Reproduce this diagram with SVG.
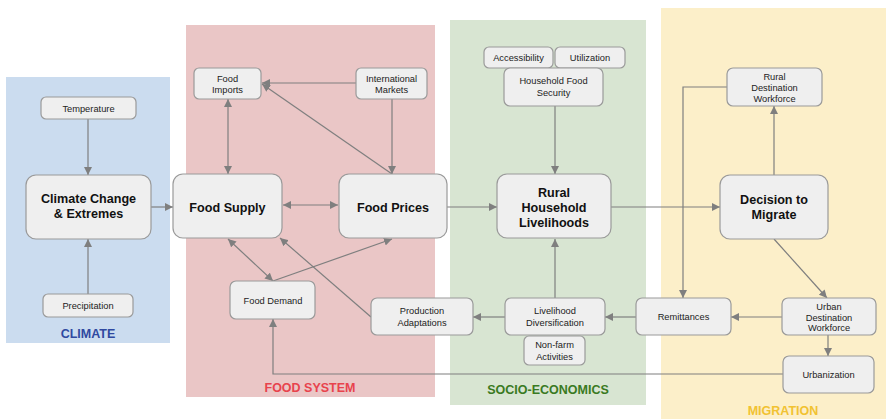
<svg xmlns="http://www.w3.org/2000/svg" width="886" height="419" viewBox="0 0 886 419">
<defs>
<marker id="ah" viewBox="0 0 10 10" refX="10" refY="5" markerWidth="8" markerHeight="8" markerUnits="userSpaceOnUse" orient="auto-start-reverse">
<path d="M0,0 L10,5 L0,10 z" fill="#7f7f7f"/>
</marker>
<style>
.n rect{fill:#efefef;stroke:#9a9a9a;stroke-width:1.2}
.s{font-family:"Liberation Sans",Arial,sans-serif;font-size:9.3px;fill:#222;text-anchor:middle}
.b{font-family:"Liberation Sans",Arial,sans-serif;font-size:12.6px;font-weight:bold;fill:#111;text-anchor:middle}
.lab{font-family:"Liberation Sans",Arial,sans-serif;font-size:12.5px;font-weight:bold;text-anchor:middle}
.c path,.c line,.c polyline{stroke:#7f7f7f;stroke-width:1.2;fill:none}
</style>
</defs>
<rect width="886" height="419" fill="#ffffff"/>
<g id="panels">
<rect x="6" y="77" width="164" height="266" fill="#cbdcef"/>
<rect x="186" y="25" width="249" height="372" fill="#eac6c6"/>
<rect x="450" y="20" width="196" height="385" fill="#d8e5d2"/>
<rect x="661" y="8" width="225" height="411" fill="#fcefc9"/>
<text class="lab" x="88" y="338" fill="#2f49a0">CLIMATE</text>
<text class="lab" x="310" y="392" fill="#e8434d">FOOD SYSTEM</text>
<text class="lab" x="548" y="394" fill="#3a7a22">SOCIO-ECONOMICS</text>
<text class="lab" x="783" y="415" fill="#f1c232">MIGRATION</text>
</g>
<g id="connectors" class="c">
<line x1="88" y1="119" x2="88" y2="175" marker-end="url(#ah)"/>
<line x1="88" y1="294" x2="88" y2="239" marker-end="url(#ah)"/>
<line x1="151" y1="207" x2="173" y2="207" marker-end="url(#ah)"/>
<line x1="228" y1="99" x2="228" y2="174" marker-start="url(#ah)" marker-end="url(#ah)"/>
<line x1="356" y1="83" x2="262" y2="83" marker-end="url(#ah)"/>
<line x1="392" y1="99" x2="392" y2="174" marker-end="url(#ah)"/>
<line x1="392" y1="174" x2="262" y2="84" marker-end="url(#ah)"/>
<line x1="283" y1="205" x2="338" y2="205" marker-start="url(#ah)" marker-end="url(#ah)"/>
<line x1="228" y1="239" x2="273" y2="281" marker-start="url(#ah)" marker-end="url(#ah)"/>
<line x1="273" y1="281" x2="392" y2="239" marker-end="url(#ah)"/>
<line x1="371" y1="317" x2="280" y2="238" marker-end="url(#ah)"/>
<line x1="447" y1="207" x2="497" y2="207" marker-end="url(#ah)"/>
<line x1="555" y1="106" x2="555" y2="174" marker-end="url(#ah)"/>
<line x1="555" y1="298" x2="555" y2="239" marker-end="url(#ah)"/>
<line x1="505" y1="317" x2="473" y2="317" marker-end="url(#ah)"/>
<line x1="636" y1="317" x2="605" y2="317" marker-end="url(#ah)"/>
<line x1="611" y1="207" x2="720" y2="207" marker-end="url(#ah)"/>
<line x1="774" y1="175" x2="774" y2="106" marker-end="url(#ah)"/>
<polyline points="727,87 683,87 683,298" marker-end="url(#ah)"/>
<line x1="774" y1="239" x2="827" y2="298" marker-end="url(#ah)"/>
<line x1="782" y1="317" x2="731" y2="317" marker-end="url(#ah)"/>
<line x1="828" y1="335" x2="828" y2="356" marker-end="url(#ah)"/>
<polyline points="783,374 273,374 273,319" marker-end="url(#ah)"/>
</g>
<g id="temperature" class="n"><rect x="41" y="97" width="95" height="22" rx="5"/><text class="s" x="88.5" y="111.5">Temperature</text></g>
<g id="climate-change" class="n"><rect x="26" y="175" width="125" height="64" rx="10"/><text class="b" x="88.5" y="203">Climate Change</text><text class="b" x="88.5" y="218">&amp; Extremes</text></g>
<g id="precipitation" class="n"><rect x="43" y="294" width="90" height="23" rx="5"/><text class="s" x="88" y="309">Precipitation</text></g>
<g id="food-imports" class="n"><rect x="194" y="68" width="67" height="31" rx="5"/><text class="s" x="227.5" y="81.5">Food</text><text class="s" x="227.5" y="93">Imports</text></g>
<g id="international-markets" class="n"><rect x="356" y="68" width="71" height="31" rx="5"/><text class="s" x="391.5" y="81.5">International</text><text class="s" x="391.5" y="93">Markets</text></g>
<g id="food-supply" class="n"><rect x="173" y="174" width="109" height="64" rx="10"/><text class="b" x="227.5" y="212">Food Supply</text></g>
<g id="food-prices" class="n"><rect x="339" y="174" width="108" height="64" rx="10"/><text class="b" x="393" y="212">Food Prices</text></g>
<g id="food-demand" class="n"><rect x="230" y="281" width="85" height="38" rx="6"/><text class="s" x="273" y="304">Food Demand</text></g>
<g id="production-adaptations" class="n"><rect x="371" y="298" width="102" height="37" rx="6"/><text class="s" x="422" y="314">Production</text><text class="s" x="422" y="326">Adaptations</text></g>
<g id="accessibility" class="n"><rect x="484" y="47" width="69" height="21" rx="5"/><text class="s" x="518.5" y="61">Accessibility</text></g>
<g id="utilization" class="n"><rect x="555" y="47" width="70" height="21" rx="5"/><text class="s" x="590" y="61">Utilization</text></g>
<g id="household-food-security" class="n"><rect x="504" y="68" width="99" height="38" rx="6"/><text class="s" x="553.5" y="84">Household Food</text><text class="s" x="553.5" y="96">Security</text></g>
<g id="rural-household-livelihoods" class="n"><rect x="497" y="174" width="114" height="64" rx="10"/><text class="b" x="554" y="197">Rural</text><text class="b" x="554" y="212">Household</text><text class="b" x="554" y="226.5">Livelihoods</text></g>
<g id="livelihood-diversification" class="n"><rect x="505" y="298" width="100" height="37" rx="6"/><text class="s" x="555" y="314">Livelihood</text><text class="s" x="555" y="326">Diversification</text></g>
<g id="non-farm-activities" class="n"><rect x="524" y="336" width="61" height="29" rx="5"/><text class="s" x="554.5" y="348">Non-farm</text><text class="s" x="554.5" y="360">Activities</text></g>
<g id="rural-destination-workforce" class="n"><rect x="727" y="68" width="95" height="38" rx="6"/><text class="s" x="774.5" y="80">Rural</text><text class="s" x="774.5" y="91">Destination</text><text class="s" x="774.5" y="102">Workforce</text></g>
<g id="decision-to-migrate" class="n"><rect x="720" y="175" width="108" height="64" rx="10"/><text class="b" x="774" y="204">Decision to</text><text class="b" x="774" y="219">Migrate</text></g>
<g id="remittances" class="n"><rect x="636" y="298" width="95" height="37" rx="6"/><text class="s" x="683.5" y="320">Remittances</text></g>
<g id="urban-destination-workforce" class="n"><rect x="782" y="298" width="94" height="37" rx="6"/><text class="s" x="829" y="309.5">Urban</text><text class="s" x="829" y="320.5">Destination</text><text class="s" x="829" y="331">Workforce</text></g>
<g id="urbanization" class="n"><rect x="783" y="356" width="91" height="37" rx="6"/><text class="s" x="828.5" y="378">Urbanization</text></g>
</svg>
